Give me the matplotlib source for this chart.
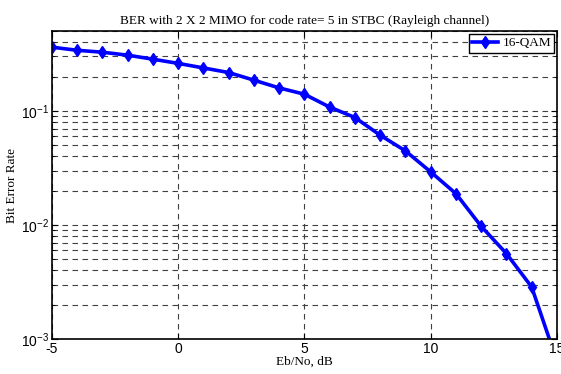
import matplotlib
matplotlib.use("Agg")
import matplotlib.pyplot as plt
from matplotlib.ticker import LogLocator, NullFormatter

plt.rcParams['axes.unicode_minus'] = False

ebno_db = [-5, -4, -3, -2, -1, 0, 1, 2, 3, 4, 5, 6, 7, 8, 9, 10, 11, 12, 13, 14, 15]
ber_16qam = [0.362, 0.340, 0.327, 0.308, 0.284, 0.261, 0.238, 0.217, 0.186, 0.159,
             0.140, 0.108, 0.0875, 0.0612, 0.0446, 0.0292, 0.0188, 0.00973,
             0.00561, 0.00286, 0.00064]
xticks = [-5, 0, 5, 10, 15]

fig = plt.figure(figsize=(5.61, 3.74), dpi=100)
ax = fig.add_axes([0.0927, 0.0936, 0.900, 0.823])

ax.semilogy(ebno_db, ber_16qam, color='#0000ff', lw=2.6, marker='d', ms=6,
            label='16-QAM')
ax.set_xlim(-5, 15)
ax.set_ylim(1e-3, 0.5)
ax.set_xticks(xticks)
ax.yaxis.set_minor_locator(LogLocator(base=10, subs=range(2, 10)))
ax.yaxis.set_minor_formatter(NullFormatter())

ax.grid(True, which='major', axis='both', ls=(0, (5, 4)), color='0.25', lw=0.8)
ax.grid(True, which='minor', axis='y', ls=(0, (5, 4)), color='0.25', lw=0.8)

ax.tick_params(which='both', direction='in', top=True, right=True)
ax.tick_params(which='minor', length=2)
ax.tick_params(which='major', length=4, labelsize=10, pad=2)
for lab in ax.get_xticklabels() + ax.get_yticklabels():
    lab.set_fontfamily('Liberation Sans')
for sp in ax.spines.values():
    sp.set_linewidth(1.2)

serif = 'Liberation Serif'
ax.set_title('BER with 2 X 2 MIMO for code rate= 5 in STBC (Rayleigh channel)',
             fontsize=9.5, fontfamily=serif, pad=5)
ax.set_xlabel('Eb/No, dB', fontsize=9.5, fontfamily=serif, labelpad=0)
ax.set_ylabel('Bit Error Rate', fontsize=9.5, fontfamily=serif, labelpad=2)

leg = ax.legend(loc='upper right', prop={'family': serif, 'size': 9.5},
                fancybox=False, edgecolor='black', framealpha=1,
                borderpad=0.25, handlelength=2.0, handletextpad=0.3,
                borderaxespad=0.2)
leg.get_frame().set_linewidth(1.0)

fig.savefig('out.png', dpi=100)
